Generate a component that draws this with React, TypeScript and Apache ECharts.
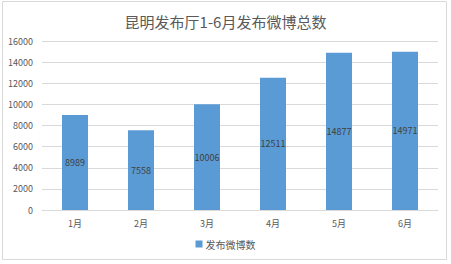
import React, { useEffect, useRef } from "react";
import * as echarts from "echarts";

const categories = ["1月", "2月", "3月", "4月", "5月", "6月"];
const values = [8989, 7558, 10006, 12511, 14877, 14971];
const seriesName = "发布微博数";
const titleText = "昆明发布厅1-6月发布微博总数";

export default function App() {
  const ref = useRef<HTMLDivElement>(null);
  useEffect(() => {
    const chart = echarts.init(ref.current!, null, { renderer: "svg" });
    const font = "'Noto Sans CJK SC', 'Microsoft YaHei', sans-serif";
    chart.setOption({
      animation: false,
      backgroundColor: "#ffffff",
      textStyle: { fontFamily: font },
      title: {
        text: titleText,
        left: "center",
        top: 9,
        textStyle: { fontSize: 15, fontWeight: "normal", color: "#595959", fontFamily: font },
      },
      graphic: [
        {
          type: "rect",
          shape: { x: 2.5, y: 1.5, width: 444, height: 258 },
          style: { fill: "none", stroke: "#d9d9d9", lineWidth: 1 },
          silent: true,
        },
      ],
      legend: {
        bottom: 10,
        left: "center",
        itemWidth: 7,
        itemHeight: 7,
        itemGap: 4,
        icon: "rect",
        data: [seriesName],
        textStyle: { fontSize: 10, color: "#595959", fontFamily: font, padding: [0, 0, 0, -2] },
      },
      grid: { left: 42, right: 13, top: 41, bottom: 54, containLabel: false },
      xAxis: {
        type: "category",
        data: categories,
        axisLine: { lineStyle: { color: "#d9d9d9" } },
        axisTick: { show: false },
        axisLabel: { fontSize: 9, color: "#595959", margin: 9, fontFamily: font },
      },
      yAxis: {
        type: "value",
        min: 0,
        max: 16000,
        interval: 2000,
        axisLine: { show: false },
        axisTick: { show: false },
        splitLine: { lineStyle: { color: "#d9d9d9" } },
        axisLabel: {
          fontSize: 9,
          color: "#595959",
          margin: 9,
          fontFamily: font,
          formatter: (v: number) => String(v),
        },
      },
      series: [
        {
          name: seriesName,
          type: "bar",
          data: values,
          barWidth: 26,
          itemStyle: { color: "#5b9bd5" },
          label: {
            show: true,
            position: "inside",
            color: "#404040",
            fontSize: 9,
            fontFamily: font,
          },
        },
      ],
    });
    return () => chart.dispose();
  }, []);
  return <div ref={ref} style={{ width: 451, height: 264, position: "absolute", left: 0, top: 0 }} />;
}
